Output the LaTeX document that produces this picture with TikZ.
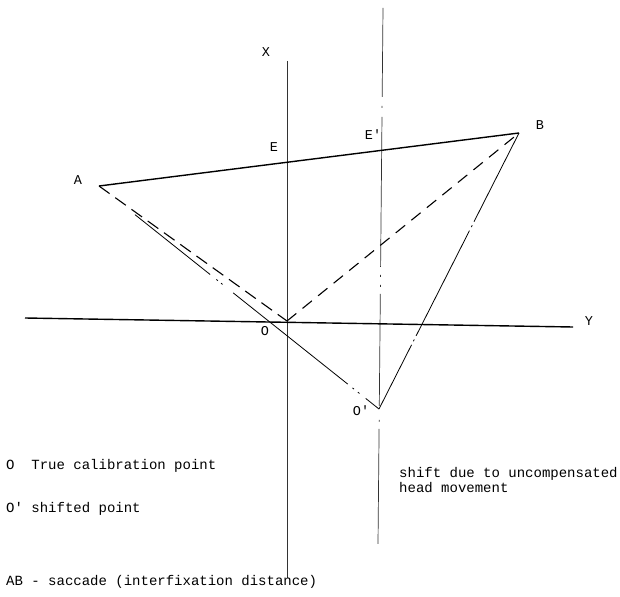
\documentclass[tikz,border=0pt]{standalone}
\usepackage{fontspec}
\setmonofont{Liberation Mono}
\begin{document}
\begin{tikzpicture}[x=1pt,y=-1pt,
  lbl/.style={inner sep=0pt,font=\ttfamily\fontsize{13.5}{15}\selectfont},
  txt/.style={inner sep=0pt,anchor=west,align=left,font=\ttfamily\fontsize{14}{13}\selectfont},
  axisthin/.style={line width=0.7pt,black!80},
  thick line/.style={line width=1.4pt},
  dashA/.style={line width=1.1pt,dash pattern=on 13pt off 7pt},
  dashB/.style={line width=1.1pt,dash pattern=on 12pt off 8pt},
  thinline/.style={line width=0.8pt}]
\useasboundingbox (0,0) rectangle (620,596);
% points
\coordinate (A) at (99,186);
\coordinate (B) at (519,133);
\coordinate (O) at (287,321);
\coordinate (Op) at (379,409);
\coordinate (Xtop) at (287,61);
\coordinate (Xbot) at (287,578);
\coordinate (Etop) at (383,8);
\coordinate (Ebot) at (378,544);
\coordinate (Yl) at (25,318);
\coordinate (Yr) at (573,327);
% axes
\draw[axisthin] (Xtop) -- (Xbot);
\draw[axisthin,dash pattern=on 89pt off 9pt on 2pt off 9pt on 150pt off 8pt on 2pt off 8pt on 2pt off 7pt on 112pt off 14pt on 2pt off 7pt on 115pt] (Etop) -- (Ebot);
\draw[thick line] (Yl) -- (Yr);
% triangle
\draw[thick line] (A) -- (B);
\draw[dashA] (A) -- (O);
\draw[dashB] (O) -- (B);
\draw[thinline,dash pattern=on 0pt off 46pt on 96pt off 8pt on 2pt off 4pt on 2pt off 13.5pt on 146.5pt off 6pt on 2pt off 5pt on 2pt off 8pt on 17pt] (A) -- (Op);
\draw[thinline,dash pattern=on 72pt off 4pt on 2pt off 4pt on 118pt off 4pt on 2pt off 4pt on 100pt] (Op) -- (B);
% labels
\node[lbl] (lX) at (266,52) {X};
\node[lbl] (lE) at (274,147) {E};
\node[lbl] (lEp) at (373,135) {E'};
\node[lbl] (lA) at (78,180) {A};
\node[lbl] (lB) at (540,125) {B};
\node[lbl] (lO) at (265,331) {O};
\node[lbl] (lOp) at (361,411) {O'};
\node[lbl] (lY) at (589,321) {Y};
% legend
\node[txt] (t1) at (6,466) {O\ \ True calibration point};
\node[txt] (t2) at (6,509) {O' shifted point};
\node[txt] (t3) at (6,582) {AB - saccade (interfixation distance)};
\node[txt] (t4) at (399,480) {shift due to uncompensated\\head movement};
\end{tikzpicture}
\end{document}
